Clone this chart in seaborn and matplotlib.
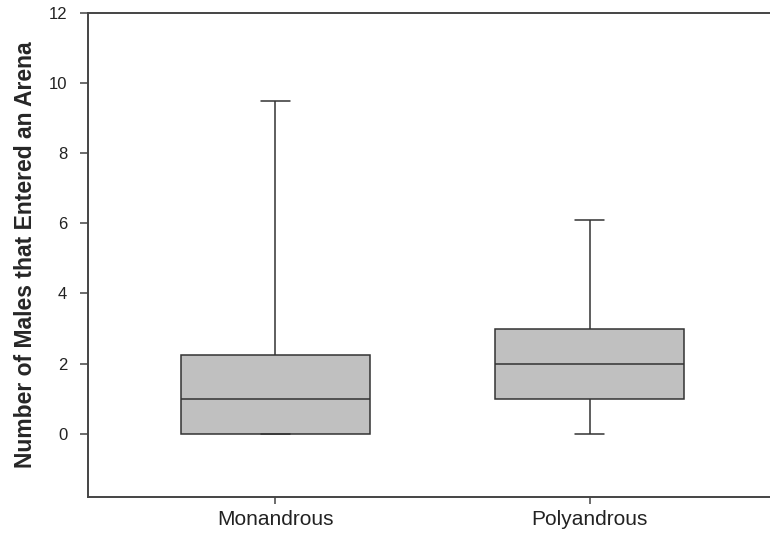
import matplotlib
matplotlib.use("Agg")
import matplotlib.pyplot as plt
import numpy as np
import pandas as pd
import seaborn as sns

# Five-number summaries per mating group: min, Q1, median, Q3, max
groups = ["Monandrous", "Polyandrous"]
monandrous_summary = [0.0, 0.0, 1.0, 2.25, 9.5]
polyandrous_summary = [0.0, 1.0, 2.0, 3.0, 6.1]

y_ticks = [0, 2, 4, 6, 8, 10, 12]
y_label = "Number of Males that Entered an Arena"

sns.set_style("ticks")
plt.rcParams["font.family"] = ["Liberation Sans", "DejaVu Sans"]

df = pd.DataFrame({
    "group": [groups[0]] * len(monandrous_summary) + [groups[1]] * len(polyandrous_summary),
    "males": monandrous_summary + polyandrous_summary,
})

fig, ax = plt.subplots(figsize=(7.7, 5.35), dpi=100)
fig.subplots_adjust(left=0.1143, right=1.0, top=0.975, bottom=0.0718)

sns.boxplot(
    data=df, x="group", y="males", order=groups,
    whis=(0, 100), width=0.6, showfliers=False,
    color="#c0c0c0", saturation=1, linecolor="#333333", linewidth=1.1,
    ax=ax,
)

# narrow whisker caps
box_w = 0.6
cap_w = 0.092
for ln in ax.lines:
    xd = np.asarray(ln.get_xdata(), dtype=float)
    yd = np.asarray(ln.get_ydata(), dtype=float)
    if len(xd) == 2 and yd[0] == yd[1]:
        span = abs(xd[1] - xd[0])
        if 0 < span < box_w - 1e-6:
            c = xd.mean()
            ln.set_xdata([c - cap_w / 2, c + cap_w / 2])

ax.set_xlim(-0.596, 1.574)
ax.set_ylim(-1.8, 12)
ax.set_yticks(y_ticks)
ax.set_xlabel("")
ax.set_ylabel(y_label, fontsize=16.5, fontweight="bold", labelpad=8)

ax.tick_params(axis="y", labelsize=12, length=6, width=1.1, color="#444444",
               labelcolor="#222222", pad=9)
ax.tick_params(axis="x", labelsize=15, length=5, width=1.1, color="#444444",
               labelcolor="#222222", pad=5)

ax.spines["right"].set_visible(False)
for side in ("top", "left", "bottom"):
    ax.spines[side].set_color("#444444")
    ax.spines[side].set_linewidth(1.4)

fig.savefig("out.png", dpi=100)
